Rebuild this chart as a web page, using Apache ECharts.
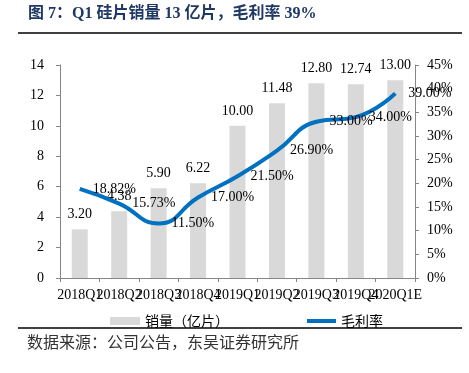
<!DOCTYPE html>
<html><head><meta charset="utf-8">
<script src="https://cdn.jsdelivr.net/npm/echarts@6/dist/echarts.min.js"></script>
<style>html,body{margin:0;padding:0;background:#fff}#c{width:469px;height:373px}</style>
</head><body><div id="c"></div>
<script>
const categories = ['2018Q1','2018Q2','2018Q3','2018Q4','2019Q1','2019Q2','2019Q3','2019Q4','2020Q1E'];
const sales = [3.20, 4.38, 5.90, 6.22, 10.00, 11.48, 12.80, 12.74, 13.00];
const margin = [18.82, 15.73, 11.50, 17.00, 21.50, 26.90, 33.00, 34.00, 39.00];
const leftTicks = {min: 0, max: 14, interval: 2};
const rightTicks = {min: 0, max: 45, interval: 5};
const titleText = '图 7：Q1 硅片销量 13 亿片，毛利率 39%';
const sourceText = '数据来源：公司公告，东吴证券研究所';
const seriesNames = ['销量（亿片）', '毛利率'];

const serif = '"Liberation Serif", "Times New Roman", serif';
const cjk = '"Noto Sans CJK SC", sans-serif';
const axisLine = {show: true, lineStyle: {color: '#868686', width: 1}};
const legendText = {fontFamily: cjk, fontSize: 14, color: '#000'};
const chart = echarts.init(document.getElementById('c'));
chart.setOption({
  animation: false,
  grid: {left: 60, right: 54, top: 65, bottom: 95},
  legend: [
    {left: 105, top: 309, itemWidth: 30, itemHeight: 8, textStyle: legendText,
     data: [{name: seriesNames[0], icon: 'rect'}]},
    {left: 302, top: 309, itemWidth: 29, itemHeight: 4, textStyle: legendText,
     data: [{name: seriesNames[1], icon: 'rect', itemStyle: {color: '#0070C0', opacity: 1}}]}
  ],
  xAxis: {
    type: 'category', data: categories,
    axisLine: axisLine,
    axisTick: {show: true, length: 4, lineStyle: {color: '#868686'}},
    axisLabel: {interval: 0, fontFamily: serif, fontSize: 14, color: '#000', margin: 10, hideOverlap: false}
  },
  yAxis: [
    {type: 'value', min: leftTicks.min, max: leftTicks.max, interval: leftTicks.interval,
     axisLine: axisLine, axisTick: {show: true, length: 4, lineStyle: {color: '#868686'}},
     splitLine: {show: false},
     axisLabel: {fontFamily: serif, fontSize: 14, color: '#000', margin: 16}},
    {type: 'value', min: rightTicks.min, max: rightTicks.max, interval: rightTicks.interval,
     position: 'right',
     axisLine: axisLine, axisTick: {show: true, length: 4, lineStyle: {color: '#868686'}},
     splitLine: {show: false},
     axisLabel: {fontFamily: serif, fontSize: 14, color: '#000', margin: 12, formatter: '{value}%'}}
  ],
  series: [
    {name: seriesNames[0], type: 'bar', data: sales, barWidth: 16, yAxisIndex: 0,
     itemStyle: {color: '#D9D9D9'},
     label: {show: true, position: 'top', distance: 8, fontFamily: serif, fontSize: 14, color: '#000',
             formatter: p => p.value.toFixed(2)}},
    {name: seriesNames[1], type: 'line', data: margin, yAxisIndex: 1, smooth: true,
     symbol: 'circle', symbolSize: 0, showSymbol: true,
     lineStyle: {color: '#0070C0', width: 4}, itemStyle: {color: '#0070C0'},
     label: {show: true, position: 'right', distance: 13, fontFamily: serif, fontSize: 14, color: '#000',
             formatter: p => p.value.toFixed(2) + '%'}}
  ],
  graphic: [
    {type: 'text', left: 28, top: 6, style: {text: titleText, font: 'bold 16px "Liberation Serif", "Noto Sans CJK SC", serif', fill: '#1F3864'}},
    {type: 'line', shape: {x1: 18, y1: 33, x2: 462, y2: 33}, style: {stroke: '#000', lineWidth: 1.5}},
    {type: 'line', shape: {x1: 18, y1: 328, x2: 462, y2: 328}, style: {stroke: '#000', lineWidth: 1.5}},
    {type: 'text', left: 27, top: 334, style: {text: sourceText, font: '16px "Noto Sans CJK SC", sans-serif', fill: '#333'}}
  ]
});
</script></body></html>
